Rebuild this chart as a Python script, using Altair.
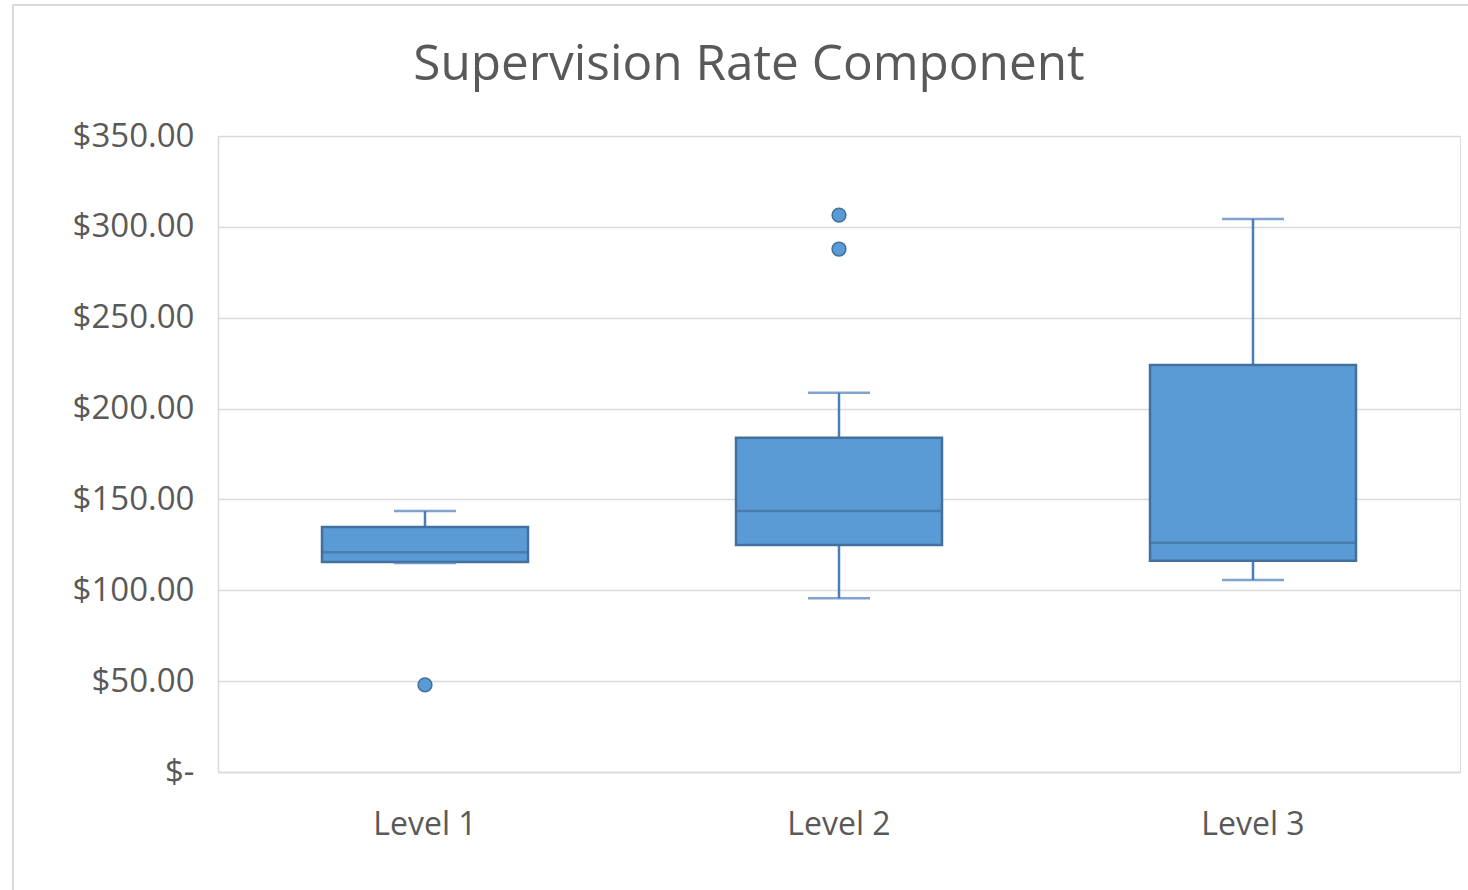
import altair as alt
import pandas as pd

title_text = ["Supervision Rate Component"]

levels = ["Level 1", "Level 2", "Level 3"]
whisker_low = [115.0, 95.6, 105.7]
q1 = [115.5, 124.9, 116.3]
median = [121.0, 143.6, 126.2]
q3 = [134.8, 184.0, 224.0]
whisker_high = [143.6, 208.7, 304.3]

outlier_levels = ["Level 1", "Level 2", "Level 2"]
outlier_values = [47.9, 306.5, 287.8]

y_ticks = [0, 50, 100, 150, 200, 250, 300, 350]

box = pd.DataFrame({
    "level": levels, "lo": whisker_low, "q1": q1, "med": median,
    "q3": q3, "hi": whisker_high,
})
out = pd.DataFrame({"level": outlier_levels, "value": outlier_values})
ttl = pd.DataFrame({"t": title_text})

FILL = "#5B9BD5"
LINE = "#41719C"
WHISK = "#4A7EB8"
FONT = "Open Sans"

x_enc = alt.X("level:N", sort=levels, title=None,
              scale=alt.Scale(paddingInner=0, paddingOuter=0),
              axis=alt.Axis(labelAngle=0, ticks=False, labelPadding=37,
                            labelFontSize=32, labelColor="#595959", labelFont=FONT,
                            domainColor="#D9D9D9", domainWidth=1.5, grid=False))
y_scale = alt.Scale(domain=[0, 350], nice=False)
y_axis = alt.Axis(values=y_ticks, title=None, ticks=False, labelPadding=24,
                  labelFontSize=33, labelColor="#595959", labelFont=FONT,
                  labelExpr="datum.value == 0 ? '$-' : '$' + format(datum.value, '.2f')",
                  gridColor="#D9D9D9", gridWidth=1.5, domainColor="#D9D9D9", domainWidth=1.5)

base = alt.Chart(box)

frame = alt.Chart(ttl).mark_rect(fill=None, stroke="#D9D9D9", strokeWidth=2).encode(
    x=alt.value(-205), x2=alt.value(1270), y=alt.value(-131), y2=alt.value(770)
)
title = alt.Chart(ttl).mark_text(fontSize=49.5, font=FONT, color="#595959",
                                 align="center", baseline="middle").encode(
    text="t:N", x=alt.value(531), y=alt.value(-71)
)

whisker = base.mark_rule(color=WHISK, strokeWidth=2.5).encode(
    x=x_enc,
    y=alt.Y("lo:Q", scale=y_scale, axis=y_axis),
    y2="hi:Q",
)
boxes = base.mark_bar(size=206, color=FILL, stroke=LINE, strokeWidth=2.5).encode(
    x=x_enc, y=alt.Y("q1:Q", scale=y_scale), y2="q3:Q",
)
med = base.mark_tick(size=206, thickness=2.5, color=LINE).encode(
    x=x_enc, y=alt.Y("med:Q", scale=y_scale),
)
cap_lo = base.mark_tick(size=62, thickness=2.5, color=WHISK).encode(
    x=x_enc, y=alt.Y("lo:Q", scale=y_scale),
)
cap_hi = base.mark_tick(size=62, thickness=2.5, color=WHISK).encode(
    x=x_enc, y=alt.Y("hi:Q", scale=y_scale),
)
pts = alt.Chart(out).mark_point(filled=True, shape="circle", size=190, color=FILL,
                                stroke=LINE, strokeWidth=1.5, opacity=1).encode(
    x=alt.X("level:N", sort=levels), y=alt.Y("value:Q", scale=y_scale),
)

chart = alt.layer(frame, title, whisker, boxes, med, cap_lo, cap_hi, pts).properties(
    width=1242, height=636,
    autosize=alt.AutoSizeParams(type="none"),
    padding={"left": 218, "top": 136, "right": 8, "bottom": 118},
).configure_view(stroke=None).configure(background="white")

chart.save("out.html", embed_options={"renderer": "svg", "actions": False})
